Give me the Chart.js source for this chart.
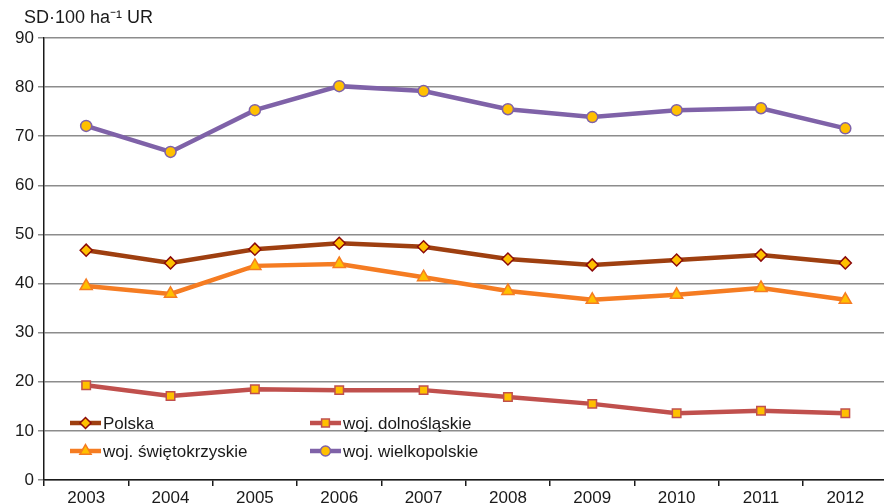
<!DOCTYPE html>
<html><head><meta charset="utf-8">
<script src="https://cdn.jsdelivr.net/npm/chart.js@4/dist/chart.umd.min.js"></script>
<style>html,body{margin:0;padding:0;background:#fff;overflow:hidden;width:884px;height:504px}canvas{display:block}</style>
</head><body>
<canvas id="c" width="896" height="504"></canvas>
<script>
const years = ['2003','2004','2005','2006','2007','2008','2009','2010','2011','2012'];
const polska = [46.8,44.2,47.0,48.2,47.5,45.0,43.8,44.8,45.8,44.2];
const dolnoslaskie = [19.3,17.1,18.5,18.3,18.3,16.9,15.5,13.6,14.1,13.6];
const swietokrzyskie = [39.5,37.9,43.6,44.0,41.3,38.5,36.7,37.7,39.1,36.7];
const wielkopolskie = [72.1,66.8,75.3,80.2,79.2,75.5,73.9,75.3,75.7,71.6];
const yTitle = 'SD·100 ha⁻¹ UR';
const FONT = '"Liberation Sans", Arial, sans-serif';

const mk = (label, data, color, border, style, r) => ({
  label, data, borderColor: color, borderWidth: 4.5, backgroundColor: color,
  pointStyle: style, pointRadius: r, pointHoverRadius: r,
  pointBackgroundColor: '#ffc000', pointBorderColor: border, pointBorderWidth: 1.5,
  tension: 0, fill: false
});
const datasets = [
  mk('Polska', polska, '#9e3f10', '#8b0a0a', 'rectRot', 6),
  mk('woj. dolnośląskie', dolnoslaskie, '#c0504d', '#c0504d', 'rect', 6),
  mk('woj. świętokrzyskie', swietokrzyskie, '#f57c22', '#f57c22', 'triangle', 7),
  mk('woj. wielkopolskie', wielkopolskie, '#7f62a8', '#7f62a8', 'circle', 5.5)
];

const legendPlugin = {
  id: 'legendInside',
  afterDraw(chart) {
    const ctx = chart.ctx;
    const pos = [[70, 423], [310, 423], [70, 451], [310, 451]];
    chart.data.datasets.forEach((ds, i) => {
      const [x, y] = pos[i];
      ctx.save();
      ctx.strokeStyle = ds.borderColor; ctx.lineWidth = 4.5;
      ctx.beginPath(); ctx.moveTo(x, y); ctx.lineTo(x + 31, y); ctx.stroke();
      ctx.fillStyle = '#ffc000'; ctx.strokeStyle = ds.pointBorderColor; ctx.lineWidth = 1.5;
      Chart.helpers.drawPoint(ctx, {pointStyle: ds.pointStyle, radius: ds.pointRadius - 0.5, borderWidth: 1.5}, x + 15.5, y);
      ctx.fillStyle = '#1a1a1a';
      ctx.font = '17px ' + FONT;
      ctx.textBaseline = 'middle'; ctx.textAlign = 'left';
      ctx.fillText(ds.label, x + 33, y + 1);
      ctx.restore();
    });
    ctx.save();
    ctx.fillStyle = '#1a1a1a'; ctx.font = '18px ' + FONT;
    ctx.textBaseline = 'middle'; ctx.textAlign = 'left';
    ctx.fillText(yTitle, 24, 18);
    ctx.restore();
  }
};

new Chart(document.getElementById('c'), {
  type: 'line',
  data: { labels: years, datasets },
  options: {
    responsive: false, animation: false,
    layout: { padding: { top: 38, right: 4, left: 0, bottom: 0 } },
    plugins: { legend: { display: false }, tooltip: { enabled: false } },
    scales: {
      y: {
        min: 0, max: 90,
        ticks: { stepSize: 10, color: '#1a1a1a', font: { family: FONT, size: 17 }, padding: 4 },
        grid: { color: '#8c8c8c', lineWidth: 1.5, tickLength: 6 },
        border: { color: '#1a1a1a', width: 1.5 },
        afterFit(s) { s.width = 44; }
      },
      x: {
        offset: true,
        ticks: { color: '#1a1a1a', font: { family: FONT, size: 17 }, padding: 2, maxRotation: 0 },
        grid: { offset: true, drawOnChartArea: false, color: '#1a1a1a', tickLength: 6, lineWidth: 1.5 },
        border: { color: '#1a1a1a', width: 1.5 },
        afterFit(s) { s.height = 24; }
      }
    }
  },
  plugins: [legendPlugin]
});
</script>
</body></html>
